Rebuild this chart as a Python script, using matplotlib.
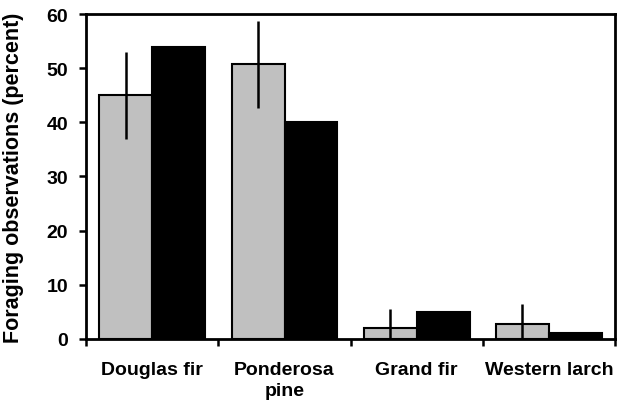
import numpy as np
from matplotlib import pyplot as plt
import matplotlib as mpl

mpl.rcParams["font.family"] = ["Liberation Sans", "DejaVu Sans"]
mpl.rcParams["font.weight"] = "bold"

categories = ["Douglas fir", "Ponderosa\npine", "Grand fir", "Western larch"]
gray_vals = [45, 50.7, 2, 2.7]
gray_err = [8, 8, 3.5, 3.8]
black_vals = [54, 40, 5, 1]

fig = plt.figure(figsize=(6.2, 4.06), dpi=100)
ax = fig.add_axes([0.139, 0.163, 0.853, 0.8])

x = np.arange(len(categories))
bar_width = 0.4

ax.bar(x - bar_width / 2, gray_vals, width=bar_width, color="#c0c0c0",
       edgecolor="black", linewidth=1.5, zorder=2)
ax.bar(x + bar_width / 2, black_vals, width=bar_width, color="black",
       edgecolor="black", linewidth=1.5, zorder=2)
ax.errorbar(x - bar_width / 2, gray_vals, yerr=gray_err, fmt="none",
            ecolor="black", elinewidth=1.8, capsize=0, zorder=3)

ax.set_xlim(-0.5, len(categories) - 0.5)
ax.set_ylim(0, 60)
ax.set_yticks(range(0, 61, 10))
ax.set_xticks(x)
ax.set_xticklabels(categories, fontsize=14, fontweight="bold", linespacing=1.3)
ax.set_xticks(np.arange(-0.5, len(categories), 1), minor=True)
ax.tick_params(axis="x", which="major", length=0, pad=16)
ax.tick_params(axis="x", which="minor", length=5, width=1.8, direction="out")
ax.tick_params(axis="y", length=5, width=1.8, direction="out", labelsize=14, pad=8)
for lab in ax.get_yticklabels():
    lab.set_fontweight("bold")

ax.set_ylabel("Foraging observations (percent)", fontsize=15.5, fontweight="bold")
ax.yaxis.set_label_coords(-0.118, 0.5)

for s in ax.spines.values():
    s.set_linewidth(2)

plt.savefig("out.png", dpi=100)
